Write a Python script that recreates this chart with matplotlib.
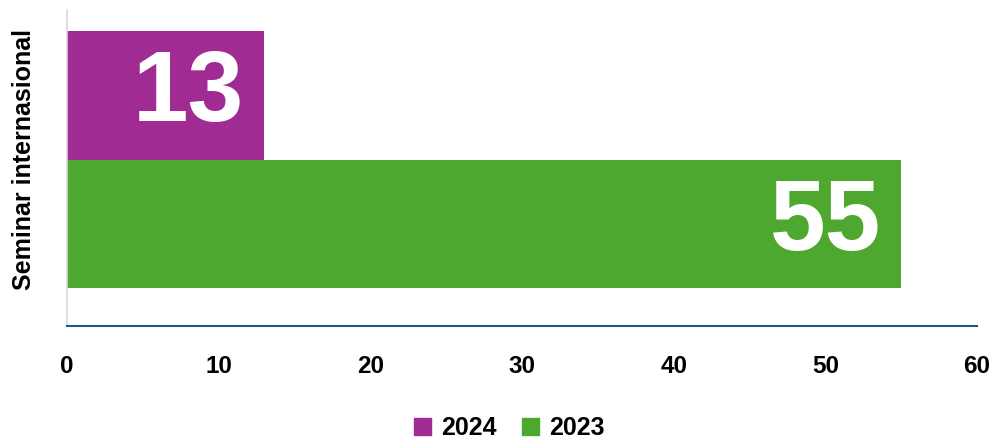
import matplotlib.pyplot as plt
from matplotlib.patches import Patch

plt.rcParams["font.family"] = ["Liberation Sans", "DejaVu Sans"]

category = "Seminar internasional"
years = ["2024", "2023"]
values = [13, 55]
colors = ["#A02B93", "#4EA72E"]
x_ticks = [0, 10, 20, 30, 40, 50, 60]

fig = plt.figure(figsize=(10.02, 4.38), dpi=100)
ax = fig.add_axes([67 / 1002, 112 / 438, 910 / 1002, 316 / 438])

bar_h = 0.4
offsets = [0.2, -0.2]
for year, value, color, off in zip(years, values, colors, offsets):
    ax.barh(off, value, height=bar_h, color=color, label=year)
    ax.text(value - 1.3, off, str(value), ha="right", va="center",
            color="white", fontsize=72, fontweight="bold")

ax.set_xlim(0, 60)
ax.set_ylim(-0.52, 0.467)
ax.set_xticks(x_ticks)
ax.set_yticks([])
ax.tick_params(axis="x", length=0, pad=21, labelsize=17.5)
for lbl in ax.get_xticklabels():
    lbl.set_fontweight("bold")

for side in ["top", "right"]:
    ax.spines[side].set_visible(False)
ax.spines["left"].set_color("#d9d9d9")
ax.spines["left"].set_linewidth(1.2)
ax.spines["bottom"].set_color("#156082")
ax.spines["bottom"].set_linewidth(1.5)

# category label sits centred on the bar group, not the axes
fig.text(24 / 1002, 1 - 159 / 438, category, rotation=90, ha="center",
         va="center", fontsize=18, fontweight="bold")

handles = [Patch(color=c, label=y) for y, c in zip(years, colors)]
fig.legend(handles=handles, loc="center", bbox_to_anchor=(509 / 1002, 10 / 438),
           ncol=2, frameon=False, prop={"size": 18, "weight": "bold"},
           handlelength=0.7, handleheight=0.7, handletextpad=0.4,
           columnspacing=1.0)

fig.savefig("out.png", dpi=100)
